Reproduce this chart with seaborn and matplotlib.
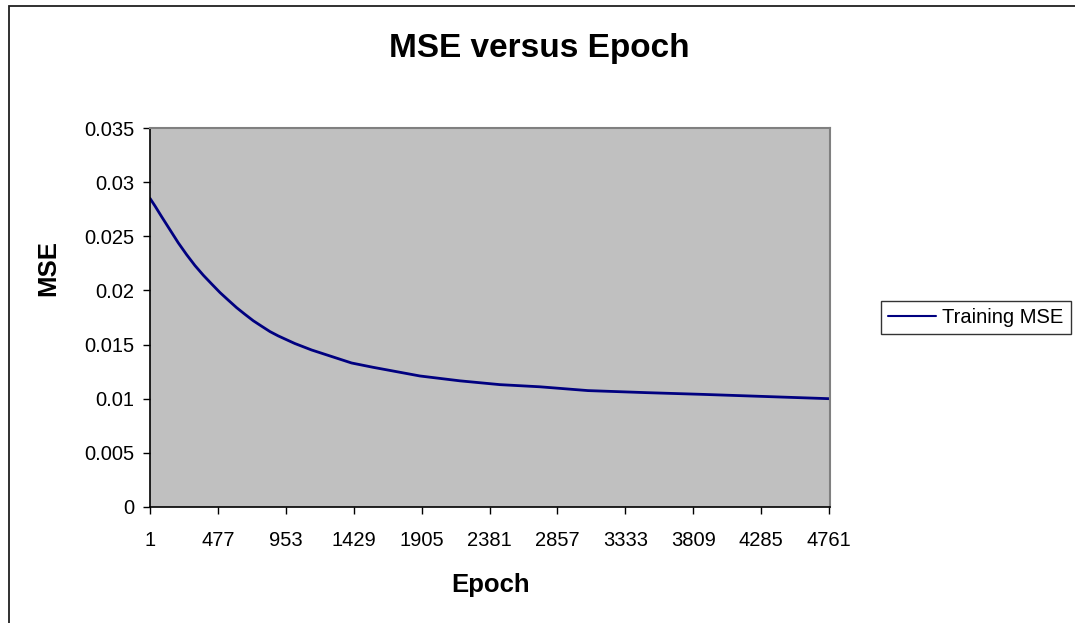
import matplotlib
matplotlib.use("Agg")
import matplotlib.pyplot as plt
import seaborn as sns
import pandas as pd
from matplotlib.patches import Rectangle

# ---- data ----
epochs = [1, 36, 83, 141, 199, 258, 316, 375, 433, 492, 550, 609, 666, 725,
          783, 842, 900, 1016, 1134, 1274, 1414, 1565, 1893, 2174, 2454,
          2735, 3071, 3482, 3877, 4323, 4768]
mse = [0.0285, 0.0278, 0.0268, 0.0256, 0.0244, 0.0233, 0.0223, 0.0214,
       0.0206, 0.0198, 0.0191, 0.0184, 0.0178, 0.0172, 0.0167, 0.0162,
       0.0158, 0.0151, 0.0145, 0.0139, 0.0133, 0.0129, 0.0121, 0.01165,
       0.0113, 0.0111, 0.01075, 0.01056, 0.0104, 0.0102, 0.0100]
series_name = "Training MSE"
x_ticks = [1, 477, 953, 1429, 1905, 2381, 2857, 3333, 3809, 4285, 4761]
y_ticks = [0, 0.005, 0.01, 0.015, 0.02, 0.025, 0.03, 0.035]
y_tick_labels = ["0", "0.005", "0.01", "0.015", "0.02", "0.025", "0.03", "0.035"]
title = "MSE versus Epoch"
x_label = "Epoch"
y_label = "MSE"

df = pd.DataFrame({"Epoch": epochs, "MSE": mse, "Series": series_name})

sns.set_style("ticks")
plt.rcParams["font.family"] = ["Liberation Sans", "DejaVu Sans"]
plt.rcParams["text.color"] = "black"
plt.rcParams["axes.labelcolor"] = "black"
plt.rcParams["xtick.color"] = "black"
plt.rcParams["ytick.color"] = "black"

W, H = 1075, 623
fig = plt.figure(figsize=(W / 100, H / 100), dpi=100)
fig.patch.set_facecolor("white")

# outer chart border (left & top visible)
fig.patches.append(Rectangle((8.5 / W, -0.05), 1.2, 1 - 6.5 / H + 0.05,
                             transform=fig.transFigure, fill=False,
                             edgecolor="#202020", linewidth=1.3, zorder=0))

ax = fig.add_axes([150 / W, 1 - 507 / H, (830 - 150) / W, (507 - 128) / H])
ax.set_facecolor("#C0C0C0")

sns.lineplot(data=df, x="Epoch", y="MSE", hue="Series", palette=["#000080"],
             linewidth=2.0, ax=ax, legend=True)

ax.set_xlim(epochs[0], epochs[-1])
ax.set_ylim(0, 0.035)
ax.set_xticks(x_ticks)
ax.set_xticklabels([str(t) for t in x_ticks], fontsize=14.5, color="black")
ax.set_yticks(y_ticks)
ax.set_yticklabels(y_tick_labels, fontsize=14.5, color="black")
ax.tick_params(axis="both", direction="out", length=5, width=1, color="black",
               pad=6)
ax.tick_params(axis="x", pad=12.5)

for side in ["left", "bottom"]:
    ax.spines[side].set_color("black")
    ax.spines[side].set_linewidth(1.2)
for side in ["top", "right"]:
    ax.spines[side].set_color("#808080")
    ax.spines[side].set_linewidth(1.5)
    ax.spines[side].set_visible(True)

ax.set_xlabel("")
ax.set_ylabel("")
fig.text(491 / W, 1 - 585 / H, x_label, ha="center", va="center",
         fontsize=18.5, fontweight="bold", color="black")
fig.text(48 / W, 1 - 268 / H, y_label, ha="center", va="center",
         rotation=90, fontsize=18.5, fontweight="bold", color="black")
fig.text(539 / W, 1 - 48 / H, title, ha="center", va="center",
         fontsize=24, fontweight="bold", color="black")

handles, labels = ax.get_legend_handles_labels()
ax.legend(handles, labels, loc="center left",
          bbox_to_anchor=(881 / W, 1 - 317.5 / H), bbox_transform=fig.transFigure,
          frameon=True, fancybox=False, edgecolor="black", fontsize=14.5,
          handlelength=2.4, handletextpad=0.3, borderpad=0.35,
          borderaxespad=0, title=None, labelcolor="black")
leg = ax.get_legend()
leg.get_frame().set_linewidth(1.0)
for ln in leg.get_lines():
    ln.set_linewidth(1.5)

fig.savefig("out.png", dpi=100, facecolor="white")
